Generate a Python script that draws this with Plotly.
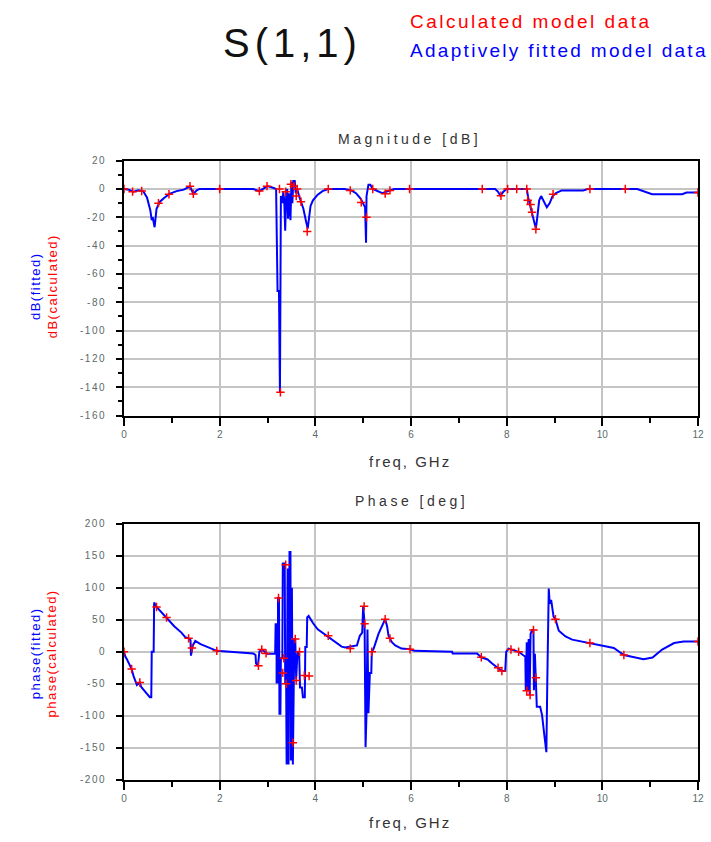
import plotly.graph_objects as go
from plotly.subplots import make_subplots

# ---------------- Data ----------------
# Magnitude [dB] - adaptively fitted (blue line)
mag_fit_freq = [0.00, 0.10, 0.20, 0.30, 0.40, 0.48, 0.55, 0.58, 0.60, 0.62, 0.64, 0.68, 0.75, 0.85, 0.95,
                1.10, 1.25, 1.38, 1.42, 1.45, 1.52, 1.58, 2.00, 2.70, 2.83, 2.92, 3.00, 3.10, 3.18,
                3.21, 3.24, 3.26, 3.28, 3.31, 3.33, 3.35, 3.37, 3.39, 3.41, 3.43, 3.45, 3.47, 3.48,
                3.50, 3.52, 3.54, 3.57, 3.59, 3.62, 3.66, 3.70, 3.75, 3.80, 3.84, 3.87, 3.90, 3.95,
                4.05, 4.15, 4.27, 4.45, 4.61, 4.75, 4.85, 4.95, 5.00, 5.04, 5.06, 5.07, 5.11, 5.15,
                5.20, 5.30, 5.40, 5.48, 5.56, 5.65, 7.76, 7.82, 7.87, 7.93, 8.00, 8.42, 8.45, 8.48,
                8.50, 8.53, 8.56, 8.59, 8.61, 8.64, 8.68, 8.72, 8.77, 8.84, 8.90, 8.96, 9.03, 9.15,
                9.60, 9.70, 10.73, 10.85, 11.04, 11.67, 11.76, 12.00]
mag_fit_db = [0, -0.5, -2, -1, -1.5, -6, -15, -22, -20, -24, -27, -14, -9, -6, -3.5,
              -1.5, -0.5, 1.8, -1, -3.5, -1, 0, 0, 0, -1.5, 0.5, 2, 1, 0,
              -72, -72, -143.5, -5, -10, -2, -8, -29.5, -5, 0, -21, -3, -15, -22,
              5, -10, 5.6, 5.6, -3, 0, -5, -9, -14, -22, -28, -20, -12, -8,
              -4, -1.5, 0, 0, 0, -1, -3, -7, -10, -13, -38, -5, 3, 3,
              0, -1.5, -3, -2, -1, 0, 0, -2, -4.8, -2, 0, 0, -6, -10,
              -14, -16, -20, -26, -28, -20, -8, -5, -8, -13, -10, -5, -3, -1,
              -1, 0, 0, -1.5, -3.7, -3.7, -2.5, -2.5]

# Magnitude [dB] - calculated model data (red markers)
mag_calc_freq = [0.00, 0.18, 0.37, 0.72, 0.94, 1.38, 1.45, 2.00, 2.83, 2.99, 3.25, 3.27, 3.38, 3.49,
                 3.55, 3.60, 3.62, 3.70, 3.83, 4.27, 4.73, 4.96, 5.07, 5.20, 5.46, 5.56, 5.97,
                 7.49, 7.88, 8.02, 8.21, 8.42, 8.44, 8.50, 8.53, 8.61, 8.97, 9.74, 10.48, 12.00]
mag_calc_db = [0, -1.9, -1.4, -10, -3.7, 2, -3.5, 0, -1.5, 2, 0, -143.5, -2, 3.3,
               2, -5, 0, -9, -30, 0, -1, -9.5, -20, 0, -3.3, -1, 0,
               0, -4.8, 0, 0, 0, -8, -11, -16.5, -28.5, -3.7, 0, 0, -2.5]

# Phase [deg] - adaptively fitted (blue line)
ph_fit_freq = [0.00, 0.03, 0.06, 0.10, 0.16, 0.20, 0.24, 0.27, 0.33, 0.36, 0.45, 0.54, 0.57, 0.58, 0.62,
               0.63, 0.68, 0.78, 0.89, 1.05, 1.20, 1.28, 1.35, 1.39, 1.40, 1.42, 1.44, 1.49, 1.60,
               1.94, 2.20, 2.70, 2.75, 2.76, 2.80, 2.82, 2.83, 2.88, 2.97, 3.00, 3.16, 3.17, 3.19,
               3.19, 3.22, 3.22, 3.24, 3.25, 3.27, 3.28, 3.31, 3.32, 3.36, 3.37, 3.39, 3.40, 3.42,
               3.44, 3.46, 3.48, 3.49, 3.51, 3.53, 3.54, 3.56, 3.58, 3.60, 3.62, 3.64, 3.66, 3.68,
               3.72, 3.74, 3.78, 3.79, 3.82, 3.83, 3.86, 3.95, 4.05, 4.20, 4.30, 4.41, 4.55, 4.62,
               4.87, 4.93, 4.98, 5.00, 5.02, 5.03, 5.05, 5.07, 5.09, 5.11, 5.14, 5.17, 5.18, 5.22,
               5.32, 5.40, 5.46, 5.50, 5.53, 5.60, 5.67, 5.80, 5.98, 6.07, 6.86, 6.87, 7.38, 7.47,
               7.60, 7.69, 7.82, 7.90, 7.97, 7.99, 8.04, 8.15, 8.25, 8.39, 8.40, 8.42, 8.44, 8.46,
               8.48, 8.50, 8.53, 8.56, 8.57, 8.59, 8.61, 8.63, 8.70, 8.74, 8.79, 8.83, 8.85, 8.88,
               8.90, 8.93, 8.98, 9.02, 9.09, 9.23, 9.37, 9.74, 10.24, 10.45, 10.86, 11.05, 11.25,
               11.50, 11.70, 12.00]
ph_fit_deg = [0, -8, -11.5, -18, -27, -38, -45, -52, -48, -55, -63, -71, -71, 0, 0,
              77, 70, 62, 53.6, 40, 30, 23, 21, 18, -6, 6, 10, 17, 12,
              1.5, 0, -2.5, -5, -18, -22, -10, 0, 3.6, -2.5, -3, -3, 43, 43,
              -48, -48, 84, 84, -97, -97, -10, -10, 138, 138, -48, -48, -176, 130,
              -176, 156, 156, -170, 100, -176, -60, 20, 20, -43, -10, 0, 0, -56,
              -56, -71, -71, 7.6, 7.6, 53.6, 56, 45, 35, 27, 22, 15, 8, 6.6,
              10, 25, 30, 71, 50, 44, -149, -96, 35, -96, -33, -33, 0, 5,
              28, 42, 51, 40, 25, 15, 10, 5, 4, 1.5, 0, -2.5, -2.5, -8.6,
              -12, -18, -25, -30, -30, 0, 5, 3, 0, -7.6, -61, 15, -61, 20,
              -67, 28, 34, 34, -60, -3, -40, -86, -86, -99, -132, -157, -43, 99,
              75, 81, 55, 51, 33, 24, 19, 13.7, 6, -5, -11.7, -9, 3.5,
              13.7, 16, 16]

# Phase [deg] - calculated model data (red markers)
ph_calc_freq = [0.00, 0.16, 0.33, 0.68, 0.89, 1.35, 1.42, 1.94, 2.81, 2.88, 2.97, 3.23, 3.32, 3.34,
                3.38, 3.39, 3.53, 3.58, 3.60, 3.67, 3.77, 3.87, 4.27, 4.73, 5.02, 5.03, 5.18,
                5.46, 5.56, 5.98, 7.47, 7.82, 7.90, 8.09, 8.25, 8.42, 8.49, 8.56, 8.61, 9.02,
                9.74, 10.45, 12.00]
ph_calc_deg = [0, -27, -48, 70, 53.6, 21, 6, 1.5, -22, 3.6, -2.5, 84, -33, -10,
               136, -50, -142, 20, -45, 0, -37, -38, 25, 5, 71, 44, 0,
               51, 21, 4, -8.6, -25, -30, 3.5, 0, -61, -67.5, 34, -40.6, 51,
               13.7, -5, 16]

x_tick_vals = [0, 2, 4, 6, 8, 10, 12]
mag_tick_vals = [20, 0, -20, -40, -60, -80, -100, -120, -140, -160]
ph_tick_vals = [200, 150, 100, 50, 0, -50, -100, -150, -200]

# ---------------- Figure ----------------
W, H = 711, 842
L, R = 124, 698
fig = make_subplots(rows=2, cols=1)

BLUE = "#0000ff"
RED = "#ff0000"

fig.add_trace(go.Scatter(x=mag_fit_freq, y=mag_fit_db, mode="lines",
                         line=dict(color=BLUE, width=2), showlegend=False), row=1, col=1)
fig.add_trace(go.Scatter(x=mag_calc_freq, y=mag_calc_db, mode="markers",
                         marker=dict(symbol="cross-thin", size=6, line=dict(color=RED, width=1.5)),
                         showlegend=False), row=1, col=1)
fig.add_trace(go.Scatter(x=ph_fit_freq, y=ph_fit_deg, mode="lines",
                         line=dict(color=BLUE, width=2), showlegend=False), row=2, col=1)
fig.add_trace(go.Scatter(x=ph_calc_freq, y=ph_calc_deg, mode="markers",
                         marker=dict(symbol="cross-thin", size=6, line=dict(color=RED, width=1.5)),
                         showlegend=False), row=2, col=1)


def py(p):
    return 1 - p / H


def px(p):
    return (p - L) / (R - L)


def spaced(s, sp, color=None):
    style = "letter-spacing:%spx" % sp
    if color:
        style += ";color:%s" % color
    return "<span style='%s'>%s</span>" % (style, s)


FONT = "Liberation Sans"
tickfont = dict(family=FONT, size=10, color="#5a6a6a")
axis_common = dict(showline=True, linecolor="black", linewidth=2, mirror=True,
                   ticks="outside", tickcolor="black", tickwidth=2,
                   showgrid=True, gridcolor="#c4c4c4", gridwidth=2,
                   zeroline=False, tickfont=tickfont)

fig.update_xaxes(range=[0, 12], tickvals=x_tick_vals, ticktext=[str(v) for v in x_tick_vals], ticklen=8,
                 minor=dict(dtick=1, ticklen=5, ticks="outside", tickcolor="black", tickwidth=2, showgrid=False),
                 **axis_common)
fig.update_yaxes(ticklen=6, ticklabelstandoff=8, **axis_common)
fig.update_xaxes(domain=[0, 1], row=1, col=1)
fig.update_xaxes(domain=[0, 1], row=2, col=1)
fig.update_yaxes(range=[-160, 20], tickvals=mag_tick_vals,
                 ticktext=[spaced(str(v), 1.5) for v in mag_tick_vals],
                 minor=dict(dtick=10, ticklen=4, ticks="outside", tickcolor="black", tickwidth=2, showgrid=False),
                 domain=[py(416), py(157.7)], row=1, col=1)
fig.update_yaxes(range=[-200, 200], tickvals=ph_tick_vals,
                 ticktext=[spaced(str(v), 1.5) for v in ph_tick_vals],
                 domain=[py(785), py(525.7)], row=2, col=1)

ann = []
ann.append(dict(text=spaced("S(1,1)", 5), x=px(292), y=py(38), xref="paper", yref="paper",
                showarrow=False, font=dict(family=FONT, size=40, color="#111111"),
                xanchor="center", yanchor="middle"))
ann.append(dict(text=spaced("Calculated model data", 2.5), x=px(408), y=py(17), xref="paper", yref="paper",
                showarrow=False, font=dict(family=FONT, size=19, color=RED),
                xanchor="left", yanchor="middle"))
ann.append(dict(text=spaced("Adaptively fitted model data", 2.3), x=px(408), y=py(46), xref="paper", yref="paper",
                showarrow=False, font=dict(family=FONT, size=19, color=BLUE),
                xanchor="left", yanchor="middle"))
ann.append(dict(text=spaced("Magnitude [dB]", 3.5), x=px(409), y=py(136), xref="paper", yref="paper",
                showarrow=False, font=dict(family=FONT, size=14, color="#333333"),
                xanchor="center", yanchor="middle"))
ann.append(dict(text=spaced("Phase [deg]", 3.5), x=px(411), y=py(503), xref="paper", yref="paper",
                showarrow=False, font=dict(family=FONT, size=14, color="#333333"),
                xanchor="center", yanchor="middle"))
for yy in (463, 828):
    ann.append(dict(text=spaced("freq, GHz", 2), x=px(410), y=py(yy), xref="paper", yref="paper",
                    showarrow=False, font=dict(family=FONT, size=15, color="#333333"),
                    xanchor="center", yanchor="middle"))
ann.append(dict(text=spaced("dB(fitted)", 1.5, BLUE) + "<br>" + spaced("dB(calculated)", 1.5, RED),
                x=px(44), y=py(285), xref="paper", yref="paper", textangle=-90,
                showarrow=False, font=dict(family=FONT, size=13),
                xanchor="center", yanchor="middle"))
ann.append(dict(text=spaced("phase(fitted)", 1.5, BLUE) + "<br>" + spaced("phase(calculated)", 1.5, RED),
                x=px(44), y=py(657), xref="paper", yref="paper", textangle=-90,
                showarrow=False, font=dict(family=FONT, size=13),
                xanchor="center", yanchor="middle"))

fig.update_layout(width=W, height=H, margin=dict(l=L, r=W - R, t=0, b=0),
                  paper_bgcolor="white", plot_bgcolor="white",
                  annotations=ann, showlegend=False)

fig.write_html("out.html", config={"displayModeBar": False},
               post_script="document.body.style.margin='0';document.body.style.overflow='hidden';")
